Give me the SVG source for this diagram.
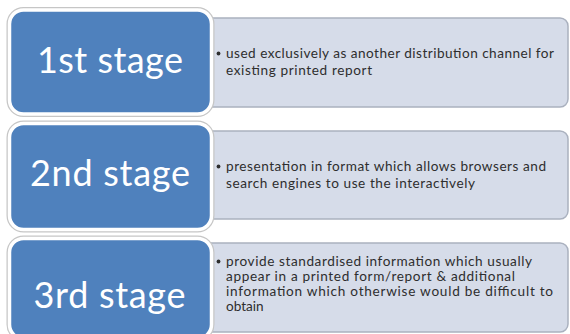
<svg xmlns="http://www.w3.org/2000/svg" width="570" height="334" viewBox="0 0 570 334">
  <style>
    .panel { fill: #d6dce9; stroke: #aab1bf; stroke-width: 1.5; }
    .halo { fill: none; stroke: #c6c6c6; stroke-width: 6; }
    .stage { fill: #4f81bd; stroke: #ffffff; stroke-width: 3.5; }
    .title { font-family: Lato, "Liberation Sans", sans-serif; font-size: 36px; fill: #ffffff; text-anchor: middle; }
    .note { font-family: Lato, "Liberation Sans", sans-serif; font-size: 13.6px; fill: #2e2e2e; }
    .dot { fill: #2e2e2e; }
  </style>
  <rect width="570" height="334" fill="#ffffff"/>

  <!-- detail panels sit behind the stage boxes -->
  <g id="detail-1">
    <rect class="panel" x="180" y="18" width="388" height="89" rx="8"/>
    <circle class="dot" cx="218.5" cy="53.5" r="1.9"/>
    <text class="note" x="226" y="58" textLength="328">used exclusively as another distribution channel for</text>
    <text class="note" x="226" y="75" textLength="146">existing printed report</text>
  </g>
  <g id="detail-2">
    <rect class="panel" x="180" y="131" width="388" height="88" rx="8"/>
    <circle class="dot" cx="218.5" cy="166.5" r="1.9"/>
    <text class="note" x="226" y="171" textLength="320">presentation in format which allows browsers and</text>
    <text class="note" x="226" y="188" textLength="249">search engines to use the interactively</text>
  </g>
  <g id="detail-3">
    <rect class="panel" x="180" y="243" width="388" height="89" rx="8"/>
    <circle class="dot" cx="218.5" cy="261.5" r="1.9"/>
    <text class="note" x="226" y="266" textLength="306">provide standardised information which usually</text>
    <text class="note" x="226" y="281" textLength="289">appear in a printed form/report &amp; additional</text>
    <text class="note" x="226" y="296" textLength="327">information which otherwise would be difficult to</text>
    <text class="note" x="226" y="311">obtain</text>
  </g>

  <!-- stage boxes -->
  <g id="stage-1">
    <rect class="halo" x="9.5" y="10" width="202" height="104" rx="14"/>
    <rect class="stage" x="9.5" y="10" width="202" height="104" rx="14"/>
    <text class="title" x="110" y="73" textLength="146">1st stage</text>
  </g>
  <g id="stage-2">
    <rect class="halo" x="9.5" y="123.5" width="202" height="106" rx="14"/>
    <rect class="stage" x="9.5" y="123.5" width="202" height="106" rx="14"/>
    <text class="title" x="110" y="186" textLength="160">2nd stage</text>
  </g>
  <g id="stage-3">
    <rect class="halo" x="9.5" y="238.5" width="202" height="100" rx="14"/>
    <rect class="stage" x="9.5" y="238.5" width="202" height="100" rx="14"/>
    <text class="title" x="109.5" y="308" textLength="152">3rd stage</text>
  </g>

  <g id="connectors"/>
</svg>
